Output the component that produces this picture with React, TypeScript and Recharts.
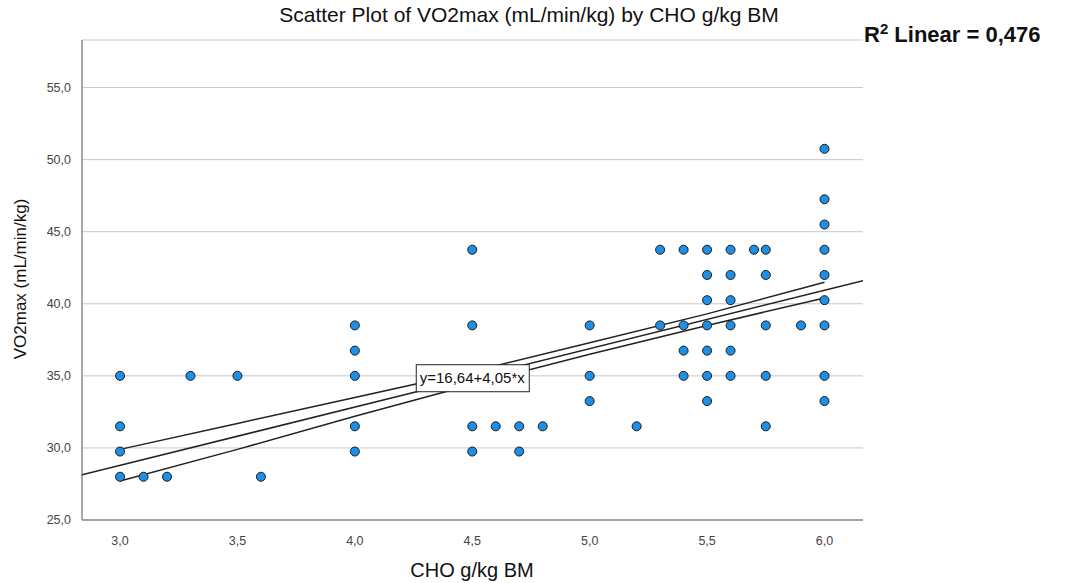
import { CartesianGrid, ReferenceDot, Scatter, ScatterChart, XAxis, YAxis } from "recharts";

// CHO g/kg BM (x) and VO2max (y) for each subject
const choValues = [
  3.0, 3.0, 3.0, 3.0, 3.1, 3.2, 3.3, 3.5, 3.6,
  4.0, 4.0, 4.0, 4.0, 4.0,
  4.5, 4.5, 4.5, 4.5, 4.6, 4.7, 4.7, 4.8,
  5.0, 5.0, 5.0, 5.2, 5.3, 5.3,
  5.4, 5.4, 5.4, 5.4,
  5.5, 5.5, 5.5, 5.5, 5.5, 5.5, 5.5,
  5.6, 5.6, 5.6, 5.6, 5.6, 5.6, 5.7,
  5.75, 5.75, 5.75, 5.75, 5.75, 5.9,
  6.0, 6.0, 6.0, 6.0, 6.0, 6.0, 6.0, 6.0, 6.0
];
const vo2Values = [
  35.0, 31.5, 29.75, 28.0, 28.0, 28.0, 35.0, 35.0, 28.0,
  38.5, 36.75, 35.0, 31.5, 29.75,
  43.75, 38.5, 31.5, 29.75, 31.5, 31.5, 29.75, 31.5,
  38.5, 35.0, 33.25, 31.5, 43.75, 38.5,
  43.75, 38.5, 36.75, 35.0,
  43.75, 42.0, 40.25, 38.5, 36.75, 35.0, 33.25,
  43.75, 42.0, 40.25, 38.5, 36.75, 35.0, 43.75,
  43.75, 42.0, 38.5, 35.0, 31.5, 38.5,
  50.75, 47.25, 45.5, 43.75, 42.0, 40.25, 38.5, 35.0, 33.25
];

// fit line y=16,64+4,05*x across the plot, and its confidence band
const fitX = [2.838, 6.164];
const fitY = [28.13, 41.6];
const bandX = [3.0, 3.5, 4.0, 4.5, 5.0, 5.5, 6.0];
const bandUpper = [29.9, 31.7, 33.5, 35.3, 37.3, 39.3, 41.5];
const bandLower = [27.7, 29.9, 32.2, 34.4, 36.5, 38.5, 40.4];

const xTicks = [3.0, 3.5, 4.0, 4.5, 5.0, 5.5, 6.0];
const yTicks = [25, 30, 35, 40, 45, 50, 55];

const equationText = "y=16,64+4,05*x";
const equationAt = { x: 4.5, y: 34.87 };

const font = "Arial, 'Liberation Sans', sans-serif";
const tickStyle = { fill: "#444", fontSize: 12.5, fontFamily: font };
const axisLine = { stroke: "#8c8c8c", strokeWidth: 1.5 };

const points = choValues.map((x, i) => ({ x, y: vo2Values[i] }));
const fitLine = fitX.map((x, i) => ({ x, y: fitY[i] }));
const upperLine = bandX.map((x, i) => ({ x, y: bandUpper[i] }));
const lowerLine = bandX.map((x, i) => ({ x, y: bandLower[i] }));

function formatComma(v: number) {
  return v.toFixed(1).replace(".", ",");
}

function NoShape() {
  return <g />;
}

function EquationBox(props: any) {
  const { cx, cy } = props;
  return (
    <g>
      <rect x={cx - 56} y={cy - 13} width={113} height={27} fill="#fff" stroke="#222" strokeWidth={1} />
      <text x={cx} y={cy + 5.5} textAnchor="middle" fontSize={15} fontFamily={font} fill="#111">
        {equationText}
      </text>
    </g>
  );
}

export default function App() {
  return (
    <div style={{ position: "absolute", left: 0, top: 0, width: 1067, height: 583, background: "#fff", fontFamily: font }}>
      <ScatterChart width={1067} height={583} margin={{ top: 40, right: 204, bottom: 0, left: 0 }}>
        <CartesianGrid horizontal vertical={false} stroke="#c8c8c8" />
        <XAxis
          type="number"
          dataKey="x"
          domain={[2.838, 6.164]}
          ticks={xTicks}
          allowDataOverflow
          tickFormatter={formatComma}
          tick={tickStyle}
          tickLine={false}
          tickMargin={10}
          axisLine={axisLine}
          height={63}
        />
        <YAxis
          type="number"
          dataKey="y"
          domain={[25, 58.3]}
          ticks={yTicks}
          allowDataOverflow
          tickFormatter={formatComma}
          tick={tickStyle}
          tickLine={false}
          tickMargin={5}
          axisLine={axisLine}
          width={82}
        />
        <Scatter data={fitLine} line={{ stroke: "#222", strokeWidth: 1.5 }} shape={NoShape} isAnimationActive={false} />
        <Scatter data={upperLine} line={{ stroke: "#222", strokeWidth: 1.5 }} shape={NoShape} isAnimationActive={false} />
        <Scatter data={lowerLine} line={{ stroke: "#222", strokeWidth: 1.5 }} shape={NoShape} isAnimationActive={false} />
        <Scatter
          data={points}
          fill="#1e8fe6"
          stroke="#1b1b1b"
          strokeWidth={1}
          shape="circle"
          isAnimationActive={false}
        />
        <ReferenceDot x={equationAt.x} y={equationAt.y} shape={EquationBox} />
      </ScatterChart>

      <div style={{ position: "absolute", left: 0, width: 1058, top: 3, textAlign: "center", fontSize: 21, color: "#111", whiteSpace: "nowrap" }}>
        Scatter Plot of VO2max (mL/min/kg) by CHO g/kg BM
      </div>
      <div style={{ position: "absolute", left: 864, top: 20, fontSize: 22, fontWeight: "bold", color: "#111", whiteSpace: "nowrap" }}>
        R<sup style={{ fontSize: 15 }}>2</sup> Linear = 0,476
      </div>
      <div
        style={{
          position: "absolute",
          left: 21,
          top: 279,
          transform: "translate(-50%, -50%) rotate(-90deg)",
          fontSize: 17,
          color: "#111",
          whiteSpace: "nowrap"
        }}
      >
        VO2max (mL/min/kg)
      </div>
      <div style={{ position: "absolute", left: 472, top: 570, transform: "translate(-50%, -50%)", fontSize: 20, color: "#111", whiteSpace: "nowrap" }}>
        CHO g/kg BM
      </div>
    </div>
  );
}
